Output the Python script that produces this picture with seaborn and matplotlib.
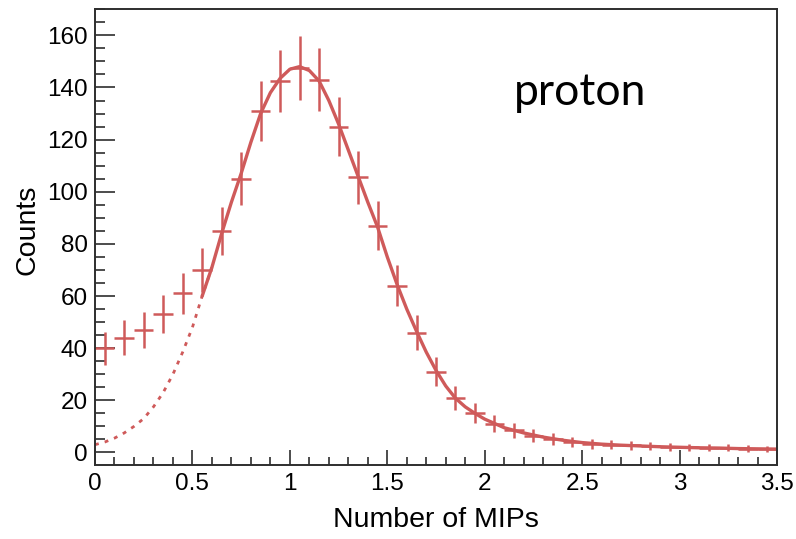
import numpy as np
import pandas as pd
import matplotlib
matplotlib.use("Agg")
import matplotlib.pyplot as plt
from matplotlib.ticker import MultipleLocator
import seaborn as sns

# ---- data ----
bin_centers = [0.05, 0.15, 0.25, 0.35, 0.45, 0.55, 0.65, 0.75, 0.85, 0.95,
               1.05, 1.15, 1.25, 1.35, 1.45, 1.55, 1.65, 1.75, 1.85, 1.95,
               2.05, 2.15, 2.25, 2.35, 2.45, 2.55, 2.65, 2.75, 2.85, 2.95,
               3.05, 3.15, 3.25, 3.35, 3.45]
counts = [40, 44, 47, 53, 61, 70, 85, 105, 131, 142.5,
          147.5, 143, 125, 105.5, 87, 64, 46, 31, 21, 15,
          11, 8.5, 6.5, 5.2, 4.0, 3.3, 3.0, 2.8, 2.6, 2.2,
          2.0, 1.8, 1.8, 1.5, 1.3]
bin_half_width = 0.05

fit_x = [0.0, 0.05, 0.1, 0.15, 0.2, 0.25, 0.3, 0.35, 0.4, 0.45, 0.5, 0.55,
         0.6, 0.65, 0.7, 0.75, 0.8, 0.85, 0.9, 0.95, 1.0, 1.05, 1.1, 1.15,
         1.2, 1.25, 1.3, 1.35, 1.4, 1.45, 1.5, 1.55, 1.6, 1.65, 1.7, 1.75,
         1.8, 1.85, 1.9, 1.95, 2.0, 2.1, 2.2, 2.3, 2.4, 2.5, 2.6, 2.7, 2.8,
         2.9, 3.0, 3.1, 3.2, 3.3, 3.4, 3.5]
fit_y = [3.0, 4.0, 5.5, 7.5, 10.0, 13.0, 17.5, 23.0, 30.0, 38.5, 48.0, 60.0,
         71.0, 84.0, 96.0, 107.0, 119.0, 130.0, 138.0, 143.5, 147.0, 148.0, 146.5, 142.5,
         135.0, 126.0, 116.0, 106.0, 96.0, 86.5, 75.0, 64.5, 55.0, 46.5, 38.5, 31.5,
         25.5, 20.8, 17.5, 15.0, 12.8, 9.5, 7.5, 5.9, 4.7, 3.8, 3.2, 2.8, 2.5,
         2.2, 2.0, 1.8, 1.7, 1.5, 1.4, 1.3]
fit_range_start = 0.55
dashed_range_end = 0.6

x_ticks = [0, 0.5, 1, 1.5, 2, 2.5, 3, 3.5]
x_tick_labels = ["0", "0.5", "1", "1.5", "2", "2.5", "3", "3.5"]
x_label = "Number of MIPs"
y_label = "Counts"
annotation = "proton"

# ---- styling ----
sns.set_theme(style="ticks")
plt.rcParams["font.family"] = ["Liberation Sans", "DejaVu Sans"]
plt.rcParams["text.color"] = "black"
plt.rcParams["axes.labelcolor"] = "black"
red = "#cf5a5a"
frame = "#2e2e2e"

fig = plt.figure(figsize=(7.96, 5.39), dpi=100)
ax = fig.add_axes([95 / 796, (539 - 465) / 539, 682 / 796, 456 / 539])

fit_df = pd.DataFrame({"x": fit_x, "y": fit_y})
dashed_df = fit_df[fit_df["x"] <= dashed_range_end]
solid_df = fit_df[fit_df["x"] >= fit_range_start]

sns.lineplot(data=dashed_df, x="x", y="y", ax=ax, color=red, lw=2.0,
             linestyle=(0, (1.4, 2.2)))
sns.lineplot(data=solid_df, x="x", y="y", ax=ax, color=red, lw=2.4)

cnt = np.array(counts, dtype=float)
ax.errorbar(bin_centers, cnt, xerr=bin_half_width, yerr=np.sqrt(cnt),
            fmt="none", ecolor=red, elinewidth=1.8, capsize=0)

ax.set_xlim(0, 3.5)
ax.set_ylim(-4.8, 170.1)

ax.xaxis.set_minor_locator(MultipleLocator(0.1))
ax.yaxis.set_major_locator(MultipleLocator(20))
ax.yaxis.set_minor_locator(MultipleLocator(5))
ax.set_xticks(x_ticks)
ax.set_xticklabels(x_tick_labels)

ax.tick_params(axis="both", which="both", direction="in", colors=frame,
               labelcolor="black", width=1.2, labelsize=17.5)
ax.tick_params(axis="x", which="major", length=11, pad=6)
ax.tick_params(axis="x", which="minor", length=5.5)
ax.tick_params(axis="y", which="major", length=14.5, pad=5)
ax.tick_params(axis="y", which="minor", length=7.2)

for s in ax.spines.values():
    s.set_visible(True)
    s.set_color(frame)
    s.set_linewidth(1.4)

ax.set_xlabel(x_label, fontsize=20.5, color="black")
ax.set_ylabel(y_label, fontsize=20.5, color="black")
ax.xaxis.set_label_coords(0.5, -0.093)
ax.yaxis.set_label_coords(-0.08, 0.515)

fig.text(514 / 796, 1 - 105 / 539, annotation, fontsize=32, color="black",
         family=["Lato", "DejaVu Sans"], ha="left", va="baseline")

fig.savefig("out.png", dpi=100)
